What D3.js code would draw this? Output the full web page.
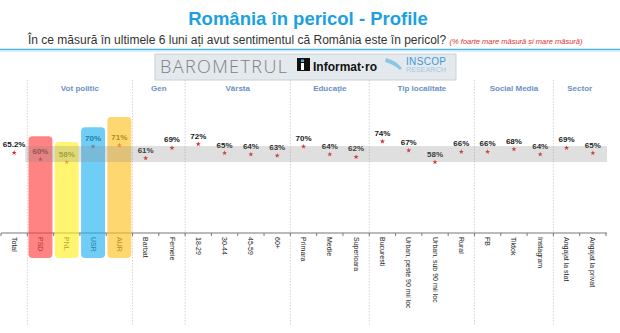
<!DOCTYPE html>
<html><head><meta charset="utf-8">
<script src="https://cdn.jsdelivr.net/npm/d3@7"></script>
<style>body{margin:0;background:#fff}svg{display:block;font-family:"Liberation Sans",Arial,sans-serif}</style>
</head><body><svg id="c" width="620" height="333"></svg>
<script>
const categories = ["Total","PSD","PNL","USR","AUR","Barbat","Femeie","18-29","30-44","45-59","60+","Primara","Medie","Superioara","Bucuresti","Urban, peste 90 mii loc","Urban, sub 90 mii loc","Rural","FB","Tiktok","Instagram","Angajat la stat","Angajat la privat"];
const values = [65.2,60,58,70,71,61,69,72,65,64,63,70,64,62,74,67,58,66,66,68,64,69,65];
const valueLabels = ["65.2%","60%","58%","70%","71%","61%","69%","72%","65%","64%","63%","70%","64%","62%","74%","67%","58%","66%","66%","68%","64%","69%","65%"];
const groups = ["Vot politic","Gen","Vârsta","Educație","Tip localitate","Social Media","Sector"];
const groupStart = [1,5,7,11,14,18,21];
const groupEnd = [5,7,11,14,18,21,23];
const parties = ["PSD","PNL","USR","AUR"];
const partyColors = ["#ff3d3d","#fff020","#1fb0f0","#ffc020"];
const partyBarTop = [78,73.5,85,93];   // decorative party panels, in % units
const partyBarBottom = -16.6;
const bandRange = [58,70.4];

const svg = d3.select("#c");
const x = d3.scaleBand().domain(categories).range([1,606]).paddingInner(0.09).paddingOuter(0.045);
const y = d3.scaleLinear().domain([0,100]).range([236.6,108]);
const cx = d => x(d) + x.bandwidth()/2;
const step = x.step();
const bx = i => 1 + i*step;

// title
svg.append("text").attr("x",308).attr("y",25).attr("text-anchor","middle")
  .attr("font-size",18.5).attr("font-weight","bold").attr("fill","#1ba1e2").text("România în pericol - Profile");
const sub = svg.append("text").attr("x",28).attr("y",44).attr("font-size",12).attr("fill","#333");
sub.append("tspan").text("În ce măsură în ultimele 6 luni ați avut sentimentul că România este în pericol? ");
sub.append("tspan").attr("font-size",7.5).attr("font-style","italic").attr("fill","#e03030").text("(% foarte mare măsură și mare măsură)");
svg.append("line").attr("x1",0).attr("x2",620).attr("y1",49.5).attr("y2",49.5).attr("stroke","#4fb2e6").attr("stroke-width",1.6);
svg.append("line").attr("x1",0).attr("x2",620).attr("y1",51.5).attr("y2",51.5).attr("stroke","#d8eef9").attr("stroke-width",1);

// logo box
const lg = svg.append("g");
lg.append("rect").attr("x",155).attr("y",54).attr("width",301).attr("height",26).attr("fill","#e3e9ed").attr("stroke","#c9d2d8");
lg.append("text").attr("x",160).attr("y",73).attr("font-size",18).attr("fill","#808080").attr("textLength",127).attr("font-family","'Open Sans',sans-serif").attr("font-weight",300).text("BAROMETRUL");
lg.append("rect").attr("x",297).attr("y",58).attr("width",13).attr("height",13).attr("fill","#111");
lg.append("rect").attr("x",301).attr("y",63).attr("width",3).attr("height",7).attr("fill","#fff");
lg.append("rect").attr("x",301).attr("y",59.5).attr("width",3).attr("height",2.5).attr("fill","#4fb2e6");
lg.append("text").attr("x",313).attr("y",70.5).attr("font-size",12).attr("font-weight","bold").attr("fill","#111").attr("textLength",64).text("Informat·ro");
lg.append("path").attr("d","M386,58 Q395,60 402,68 L400,70 Q393,64 385,62 Z").attr("fill","#8cc6e6");
lg.append("text").attr("x",406).attr("y",64.5).attr("font-size",10).attr("fill","#3a9ad9").attr("textLength",40).text("INSCOP");
lg.append("text").attr("x",406).attr("y",72).attr("font-size",7).attr("fill","#a9c6dd").attr("textLength",40).text("RESEARCH");

// separators
const seps = [1,5,7,11,14,18,21];
svg.selectAll(".sep").data(seps).join("line")
  .attr("x1",d=>bx(d)).attr("x2",d=>bx(d)).attr("y1",80).attr("y2",326)
  .attr("stroke","#c8c8c8").attr("stroke-width",0.8).attr("stroke-dasharray","1.5,1.5");

// group headers
svg.selectAll(".gh").data(groups).join("text")
  .attr("x",(d,i)=>(bx(groupStart[i])+bx(groupEnd[i]))/2).attr("y",90.5)
  .attr("text-anchor","middle").attr("font-size",8).attr("font-weight","bold").attr("fill","#6b8fc6").text(d=>d);

// axis
const axisY = 233;
svg.append("line").attr("x1",1).attr("x2",607).attr("y1",axisY).attr("y2",axisY).attr("stroke","#777").attr("stroke-width",1);
svg.selectAll(".tk").data(d3.range(categories.length+1)).join("line")
  .attr("x1",d=>bx(d)).attr("x2",d=>bx(d)).attr("y1",axisY).attr("y2",axisY+3).attr("stroke","#777");
svg.selectAll(".cl").data(categories).join("text")
  .attr("transform",d=>`translate(${cx(d)},${axisY+4}) rotate(90)`)
  .attr("dy","0.35em").attr("font-size",7).attr("fill","#222").text(d=>d);

// dots and labels
svg.selectAll(".dot").data(categories).join("path")
  .attr("d",d3.symbol(d3.symbolStar).size(8))
  .attr("transform",(d,i)=>`translate(${cx(d)},${y(values[i])})`).attr("fill","#e02424");
svg.selectAll(".vl").data(categories).join("text")
  .attr("x",d=>cx(d)).attr("y",(d,i)=>y(values[i])-5.5).attr("text-anchor","middle")
  .attr("font-size",8).attr("font-weight","bold").attr("fill","#1a1a1a").text((d,i)=>valueLabels[i]);

// party panels (semi-transparent, over labels)
svg.selectAll(".pb").data(parties).join("rect")
  .attr("x",d=>x(d)).attr("width",x.bandwidth())
  .attr("y",(d,i)=>y(partyBarTop[i])).attr("height",(d,i)=>y(partyBarBottom)-y(partyBarTop[i]))
  .attr("rx",4).attr("fill",(d,i)=>partyColors[i]).attr("fill-opacity",0.64);

// gray band
svg.append("rect").attr("x",bx(1)-2).attr("width",607-bx(1)+2)
  .attr("y",y(bandRange[1])).attr("height",y(bandRange[0])-y(bandRange[1]))
  .attr("fill","#8c8c8c").attr("fill-opacity",0.28);
</script></body></html>
